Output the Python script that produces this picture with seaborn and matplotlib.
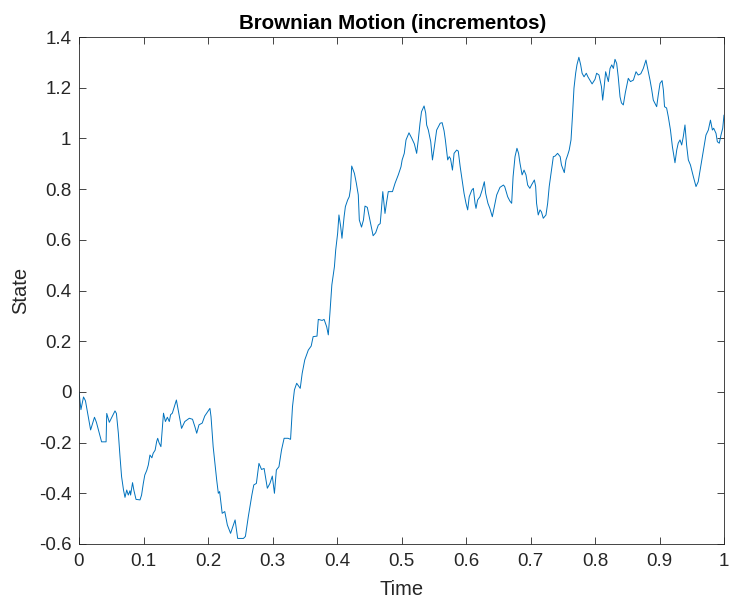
import matplotlib
matplotlib.use("Agg")
import matplotlib.pyplot as plt
import seaborn as sns
import pandas as pd

time = [0.000, 0.003, 0.007, 0.010, 0.018, 0.024, 0.027, 0.035, 0.042, 0.043, 0.047, 0.0558, 0.058,
        0.061, 0.0636, 0.066, 0.069, 0.0713, 0.074, 0.0764, 0.079, 0.080, 0.083, 0.085, 0.0884, 0.0946,
        0.097, 0.0997, 0.102, 0.105, 0.1075, 0.110, 0.113, 0.115, 0.118, 0.1204, 0.122, 0.124, 0.127,
        0.131, 0.134, 0.137, 0.140, 0.142, 0.1447, 0.151, 0.159, 0.164, 0.171, 0.176, 0.180, 0.1825,
        0.186, 0.191, 0.195, 0.203, 0.2047, 0.208, 0.2135, 0.216, 0.218, 0.222, 0.226, 0.230, 0.235,
        0.242, 0.246, 0.255, 0.258, 0.2625, 0.268, 0.271, 0.275, 0.279, 0.283, 0.287, 0.292, 0.296,
        0.2997, 0.303, 0.306, 0.310, 0.314, 0.318, 0.324, 0.328, 0.331, 0.334, 0.3375, 0.341, 0.343,
        0.346, 0.350, 0.3555, 0.360, 0.363, 0.369, 0.371, 0.377, 0.380, 0.384, 0.3865, 0.389, 0.392,
        0.396, 0.398, 0.401, 0.403, 0.4057, 0.4077, 0.411, 0.413, 0.4165, 0.419, 0.421, 0.4228, 0.427,
        0.430, 0.433, 0.4346, 0.438, 0.441, 0.4434, 0.447, 0.450, 0.453, 0.456, 0.460, 0.464, 0.467,
        0.469, 0.471, 0.4744, 0.477, 0.4795, 0.486, 0.490, 0.495, 0.4992, 0.501, 0.5043, 0.507, 0.5116,
        0.516, 0.520, 0.5235, 0.526, 0.5287, 0.531, 0.535, 0.5375, 0.539, 0.5416, 0.5453, 0.548, 0.551,
        0.5545, 0.560, 0.563, 0.566, 0.568, 0.5716, 0.574, 0.576, 0.579, 0.5815, 0.5855, 0.588, 0.591,
        0.594, 0.597, 0.600, 0.6026, 0.605, 0.609, 0.6114, 0.614, 0.6155, 0.618, 0.6217, 0.625, 0.6284,
        0.6305, 0.634, 0.637, 0.6408, 0.644, 0.6476, 0.6527, 0.658, 0.660, 0.6646, 0.668, 0.6708, 0.673,
        0.676, 0.679, 0.6815, 0.6837, 0.687, 0.690, 0.693, 0.6956, 0.699, 0.7015, 0.706, 0.708, 0.7094,
        0.712, 0.7147, 0.717, 0.7198, 0.724, 0.7266, 0.729, 0.7318, 0.7354, 0.738, 0.742, 0.746, 0.748,
        0.7524, 0.755, 0.7576, 0.760, 0.7628, 0.765, 0.7674, 0.770, 0.772, 0.775, 0.7778, 0.780, 0.783,
        0.7865, 0.789, 0.792, 0.7955, 0.800, 0.8025, 0.8062, 0.810, 0.8119, 0.814, 0.8165, 0.8186, 0.8207,
        0.8233, 0.826, 0.8285, 0.831, 0.8336, 0.836, 0.8388, 0.841, 0.8439, 0.847, 0.8516, 0.855, 0.8595,
        0.8636, 0.867, 0.871, 0.8749, 0.879, 0.8826, 0.8853, 0.888, 0.8904, 0.8956, 0.898, 0.9008, 0.904,
        0.906, 0.9078, 0.911, 0.9136, 0.917, 0.920, 0.9225, 0.924, 0.9267, 0.929, 0.9318, 0.9344, 0.9369,
        0.9395, 0.942, 0.9447, 0.948, 0.9525, 0.9566, 0.960, 0.9638, 0.968, 0.972, 0.9757, 0.979, 0.982,
        0.984, 0.9876, 0.9897, 0.9927, 0.9953, 0.998, 1.000]

state = [0.000, -0.070, -0.020, -0.035, -0.150, -0.100, -0.120, -0.197, -0.197, -0.085, -0.120, -0.075, -0.085,
         -0.163, -0.256, -0.334, -0.387, -0.416, -0.387, -0.407, -0.390, -0.407, -0.358, -0.387, -0.424, -0.426,
         -0.407, -0.361, -0.328, -0.310, -0.288, -0.249, -0.260, -0.242, -0.230, -0.196, -0.183, -0.200, -0.216,
         -0.084, -0.117, -0.100, -0.117, -0.090, -0.084, -0.032, -0.144, -0.117, -0.104, -0.108, -0.140, -0.163,
         -0.130, -0.123, -0.095, -0.065, -0.098, -0.216, -0.348, -0.400, -0.393, -0.479, -0.472, -0.525, -0.558,
         -0.505, -0.578, -0.578, -0.570, -0.492, -0.407, -0.367, -0.361, -0.282, -0.306, -0.302, -0.380, -0.361,
         -0.332, -0.400, -0.308, -0.295, -0.229, -0.183, -0.183, -0.187, -0.058, 0.008, 0.034, 0.021, 0.014,
         0.073, 0.126, 0.165, 0.181, 0.218, 0.220, 0.286, 0.282, 0.286, 0.257, 0.225, 0.310, 0.422,
         0.494, 0.560, 0.626, 0.698, 0.652, 0.606, 0.691, 0.731, 0.757, 0.770, 0.803, 0.891, 0.862,
         0.823, 0.777, 0.678, 0.650, 0.678, 0.733, 0.728, 0.691, 0.652, 0.616, 0.628, 0.658, 0.664,
         0.724, 0.790, 0.704, 0.750, 0.790, 0.790, 0.823, 0.856, 0.888, 0.915, 0.941, 0.994, 1.022,
         1.000, 0.978, 0.941, 0.994, 1.060, 1.105, 1.128, 1.100, 1.053, 1.033, 0.987, 0.915, 0.968,
         1.033, 1.060, 1.062, 1.030, 0.994, 0.915, 0.928, 0.920, 0.875, 0.941, 0.954, 0.950, 0.888,
         0.836, 0.783, 0.744, 0.718, 0.770, 0.796, 0.803, 0.744, 0.724, 0.757, 0.770, 0.796, 0.829,
         0.783, 0.744, 0.724, 0.691, 0.731, 0.777, 0.807, 0.816, 0.810, 0.770, 0.753, 0.744, 0.849,
         0.928, 0.961, 0.941, 0.902, 0.856, 0.875, 0.856, 0.816, 0.803, 0.816, 0.836, 0.810, 0.744,
         0.698, 0.718, 0.710, 0.685, 0.698, 0.744, 0.810, 0.862, 0.928, 0.930, 0.941, 0.928, 0.895,
         0.865, 0.915, 0.934, 0.954, 0.994, 1.086, 1.198, 1.257, 1.290, 1.320, 1.290, 1.257, 1.243,
         1.257, 1.243, 1.230, 1.215, 1.233, 1.257, 1.250, 1.204, 1.151, 1.198, 1.263, 1.243, 1.224,
         1.276, 1.290, 1.276, 1.312, 1.296, 1.243, 1.164, 1.140, 1.132, 1.180, 1.237, 1.224, 1.230,
         1.263, 1.250, 1.255, 1.276, 1.309, 1.263, 1.230, 1.191, 1.151, 1.125, 1.170, 1.217, 1.228,
         1.191, 1.125, 1.120, 1.086, 1.033, 0.967, 0.928, 0.904, 0.954, 0.981, 0.994, 0.974, 1.007,
         1.053, 0.974, 0.915, 0.895, 0.849, 0.810, 0.829, 0.888, 0.954, 1.013, 1.033, 1.072, 1.033,
         1.040, 1.020, 0.987, 0.981, 1.013, 1.040, 1.092]

x_ticks = [0, 0.1, 0.2, 0.3, 0.4, 0.5, 0.6, 0.7, 0.8, 0.9, 1]
x_tick_labels = ["0", "0.1", "0.2", "0.3", "0.4", "0.5", "0.6", "0.7", "0.8", "0.9", "1"]
y_ticks = [-0.6, -0.4, -0.2, 0, 0.2, 0.4, 0.6, 0.8, 1, 1.2, 1.4]
y_tick_labels = ["-0.6", "-0.4", "-0.2", "0", "0.2", "0.4", "0.6", "0.8", "1", "1.2", "1.4"]

sns.set_style("white")
plt.rcParams['font.family'] = ['Liberation Sans', 'DejaVu Sans']
plt.rcParams['axes.unicode_minus'] = False

df = pd.DataFrame({"Time": time, "State": state})

fig = plt.figure(figsize=(7.31, 5.98), dpi=100)
ax = fig.add_axes([79/731, 1 - 544/598, (724 - 79)/731, (544 - 37)/598])
sns.lineplot(data=df, x="Time", y="State", ax=ax, color="#0072BD", linewidth=0.7,
             sort=False, estimator=None)

ax.set_xlim(0, 1)
ax.set_ylim(-0.6, 1.4)
ax.set_xticks(x_ticks)
ax.set_xticklabels(x_tick_labels)
ax.set_yticks(y_ticks)
ax.set_yticklabels(y_tick_labels)

axis_color = "#262626"
for sp in ax.spines.values():
    sp.set_visible(True)
    sp.set_color(axis_color)
    sp.set_linewidth(0.6)
ax.tick_params(axis="both", which="both", direction="in", length=5, width=0.6,
               colors=axis_color, labelsize=13.5, top=True, right=True, bottom=True, left=True)
ax.tick_params(axis="x", pad=6.5)
ax.tick_params(axis="y", pad=5.5)

ax.set_xlabel("Time", fontsize=14.5, color=axis_color, labelpad=7)
ax.set_ylabel("State", fontsize=14.5, color=axis_color, labelpad=6)
ax.set_title("Brownian Motion (incrementos)", fontsize=14.8, fontweight="bold", color="black",
             pad=6, x=(392.5 - 79) / 645)

fig.savefig("out.png", dpi=100)
